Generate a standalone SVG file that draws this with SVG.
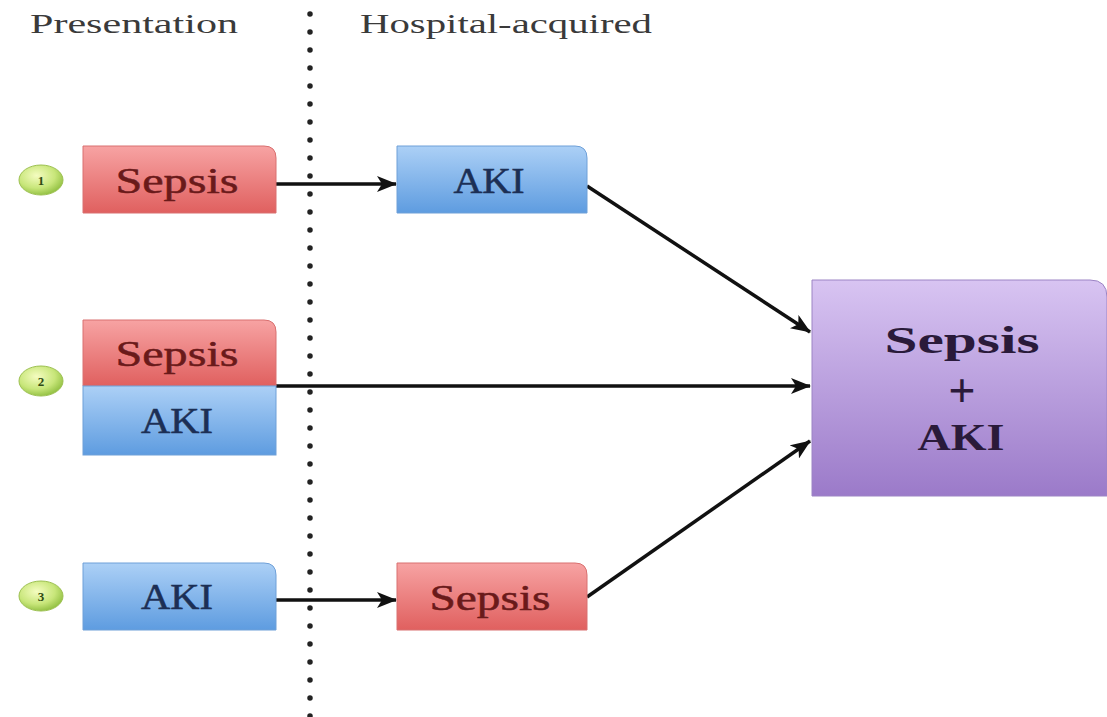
<svg xmlns="http://www.w3.org/2000/svg" width="1107" height="717" viewBox="0 0 1107 717">
<defs>
<linearGradient id="gRed" x1="0" y1="0" x2="0" y2="1"><stop offset="0" stop-color="#f7a3a3"/><stop offset="1" stop-color="#e0605f"/></linearGradient>
<linearGradient id="gBlue" x1="0" y1="0" x2="0" y2="1"><stop offset="0" stop-color="#acd0f6"/><stop offset="1" stop-color="#5e9ce0"/></linearGradient>
<linearGradient id="gPurple" x1="0" y1="0" x2="0" y2="1"><stop offset="0" stop-color="#d8c4f2"/><stop offset="1" stop-color="#9b7ac9"/></linearGradient>
<radialGradient id="gGreen" cx="0.4" cy="0.35" r="0.7"><stop offset="0" stop-color="#f4fcc0"/><stop offset="0.6" stop-color="#c8e67a"/><stop offset="1" stop-color="#8cbc3c"/></radialGradient>
<marker id="ah" viewBox="0 0 20 16" refX="19" refY="8" markerWidth="20" markerHeight="16" markerUnits="userSpaceOnUse" orient="auto">
<path d="M0,0 L20,8 L0,16 L5,8 Z" fill="#111"/>
</marker>
</defs>
<style>
.hdr{font-family:"Liberation Serif","DejaVu Serif",serif;font-size:27px;fill:#3a3a3a}
.lbl{font-family:"Liberation Serif","DejaVu Serif",serif;font-size:36px;text-anchor:middle;stroke-width:0.5}
.red{fill:#6a1a1a;stroke:#6a1a1a}
.blue{fill:#1c2f55;stroke:#1c2f55}
.big{font-family:"Liberation Serif","DejaVu Serif",serif;font-size:37px;font-weight:bold;fill:#2a1a3a;text-anchor:middle}
.num{font-family:"Liberation Serif",serif;font-size:13px;font-weight:bold;fill:#2f4a12;text-anchor:middle;dominant-baseline:central}
.circ{fill:url(#gGreen);stroke:#9cc050;stroke-width:1}
.conn{stroke:#111;stroke-width:3.5;fill:none;marker-end:url(#ah)}
</style>
<rect width="1107" height="717" fill="#ffffff"/>
<g id="headers">
<text class="hdr" x="30" y="33" textLength="208" lengthAdjust="spacingAndGlyphs">Presentation</text>
<text class="hdr" x="360" y="33" textLength="292" lengthAdjust="spacingAndGlyphs">Hospital-acquired</text>
</g>
<g id="divider">
<line x1="310" y1="14" x2="310" y2="717" stroke="#222" stroke-width="5.5" stroke-linecap="round" stroke-dasharray="0 18"/>
</g>
<g id="connectors">
<line class="conn" x1="276" y1="184" x2="396" y2="184"/>
<line class="conn" x1="587" y1="186" x2="810" y2="332"/>
<line class="conn" x1="276" y1="386" x2="810" y2="386"/>
<line class="conn" x1="276" y1="600" x2="396" y2="600"/>
<line class="conn" x1="587" y1="597" x2="810" y2="441"/>
</g>
<g id="badge1"><ellipse class="circ" cx="41" cy="180" rx="22" ry="15"/><text class="num" x="41" y="180">1</text></g>
<g id="badge2"><ellipse class="circ" cx="41" cy="381" rx="22" ry="15"/><text class="num" x="41" y="381">2</text></g>
<g id="badge3"><ellipse class="circ" cx="41" cy="596" rx="22" ry="15"/><text class="num" x="41" y="596">3</text></g>
<g id="n1-sepsis">
<path d="M83,146 H264 Q276,146 276,158 V213 H83 Z" fill="url(#gRed)" stroke="#d97070" stroke-width="1"/>
<text class="lbl red" x="177" y="193" textLength="123" lengthAdjust="spacingAndGlyphs">Sepsis</text>
</g>
<g id="n1-aki">
<path d="M397,146 H575 Q587,146 587,158 V213 H397 Z" fill="url(#gBlue)" stroke="#6fa0d8" stroke-width="1"/>
<text class="lbl blue" x="489" y="193" textLength="71" lengthAdjust="spacingAndGlyphs">AKI</text>
</g>
<g id="n2-sepsis">
<path d="M83,320 H264 Q276,320 276,332 V386 H83 Z" fill="url(#gRed)" stroke="#d97070" stroke-width="1"/>
<text class="lbl red" x="177" y="366" textLength="123" lengthAdjust="spacingAndGlyphs">Sepsis</text>
</g>
<g id="n2-aki">
<rect x="83" y="386" width="193" height="69" fill="url(#gBlue)" stroke="#6fa0d8" stroke-width="1"/>
<text class="lbl blue" x="177" y="433" textLength="72" lengthAdjust="spacingAndGlyphs">AKI</text>
</g>
<g id="n3-aki">
<path d="M83,563 H264 Q276,563 276,575 V630 H83 Z" fill="url(#gBlue)" stroke="#6fa0d8" stroke-width="1"/>
<text class="lbl blue" x="177" y="609" textLength="72" lengthAdjust="spacingAndGlyphs">AKI</text>
</g>
<g id="n3-sepsis">
<path d="M397,563 H575 Q587,563 587,575 V630 H397 Z" fill="url(#gRed)" stroke="#d97070" stroke-width="1"/>
<text class="lbl red" x="490" y="610" textLength="121" lengthAdjust="spacingAndGlyphs">Sepsis</text>
</g>
<g id="n-outcome">
<path d="M812,280 H1090 Q1107,280 1107,297 V496 H812 Z" fill="url(#gPurple)" stroke="#9c84c4" stroke-width="1"/>
<text class="big" x="962" y="353" textLength="155" lengthAdjust="spacingAndGlyphs">Sepsis</text>
<text class="big" x="962" y="407" style="font-size:48px">+</text>
<text class="big" x="961" y="450" textLength="87" lengthAdjust="spacingAndGlyphs">AKI</text>
</g>
</svg>
